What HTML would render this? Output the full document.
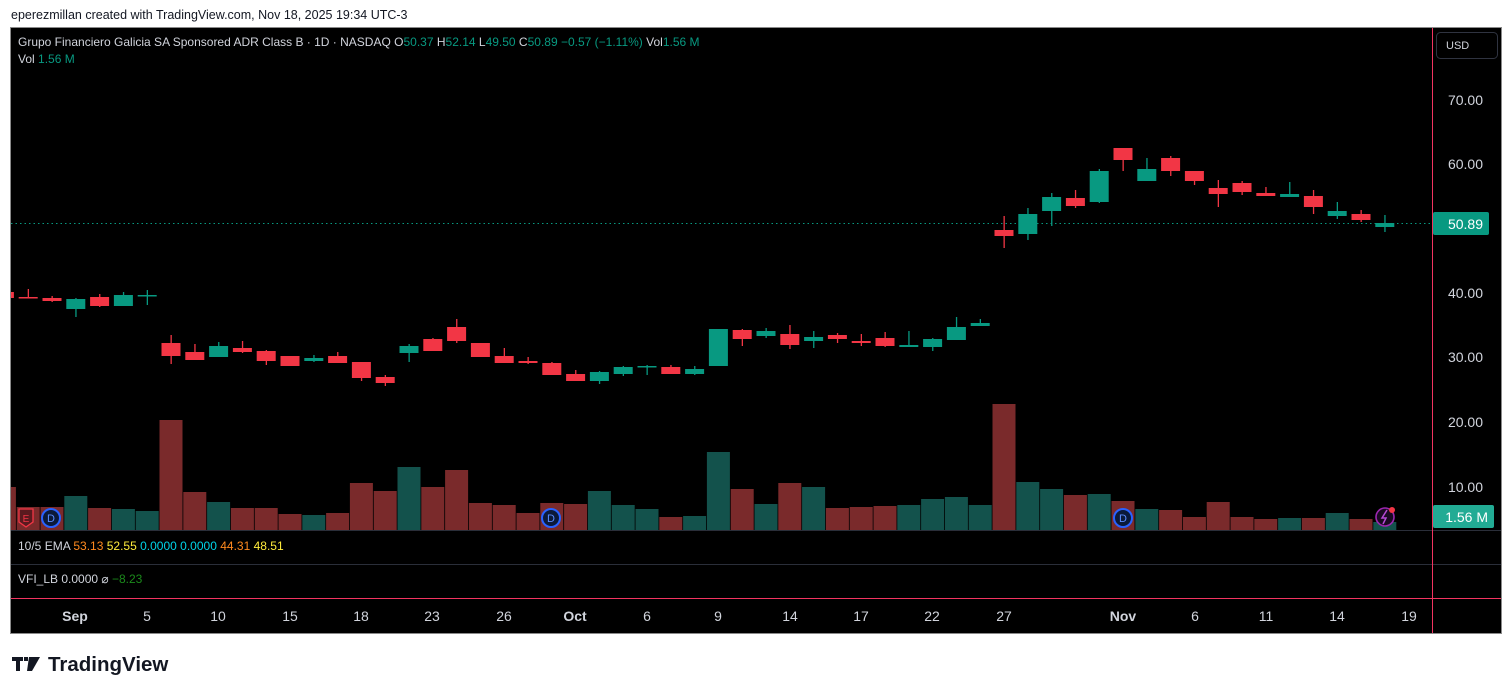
<!DOCTYPE html>
<html><head><meta charset="utf-8">
<style>
html,body{margin:0;padding:0;background:#fff;width:1512px;height:694px;overflow:hidden;font-family:"Liberation Sans","DejaVu Sans",sans-serif}
svg text{font-family:"Liberation Sans","DejaVu Sans",sans-serif}
</style></head><body>
<svg id="s" width="1512" height="694" xmlns="http://www.w3.org/2000/svg">
<rect width="1512" height="694" fill="#fff"/>
<text x="11" y="19" font-size="12.5" fill="#131722">eperezmillan created with TradingView.com, Nov 18, 2025 19:34 UTC-3</text>
<rect x="10.5" y="27.5" width="1491" height="606" fill="#000" stroke="#8a8a8a"/>
<g id="g"></g>
<line x1="11" y1="530.5" x2="1501" y2="530.5" stroke="#2a2e39"/>
<line x1="11" y1="564.5" x2="1501" y2="564.5" stroke="#2a2e39"/>
<line x1="11" y1="598.5" x2="1501" y2="598.5" stroke="#f23460"/>
<line x1="1432.5" y1="28" x2="1432.5" y2="633" stroke="#f23460"/>
<line x1="11" y1="223.5" x2="1432" y2="223.5" stroke="#089981" stroke-dasharray="1.5,3"/>
<text x="18" y="46" font-size="12" fill="#d1d4dc">Grupo Financiero Galicia SA Sponsored ADR Class B · 1D · NASDAQ  O<tspan fill="#089981">50.37</tspan>  H<tspan fill="#089981">52.14</tspan>  L<tspan fill="#089981">49.50</tspan>  C<tspan fill="#089981">50.89  −0.57 (−1.11%)</tspan>  Vol<tspan fill="#089981">1.56 M</tspan></text>
<text x="18" y="63" font-size="12" fill="#d1d4dc">Vol  <tspan fill="#089981">1.56 M</tspan></text>
<rect x="1436.5" y="32.5" width="61" height="26" rx="4" fill="#000" stroke="#2f3340"/>
<text x="1446" y="49" font-size="11" fill="#d1d4dc">USD</text>
<g font-size="14" fill="#d1d4dc" text-anchor="end">
<text x="1483" y="105">70.00</text><text x="1483" y="169">60.00</text><text x="1483" y="298">40.00</text><text x="1483" y="362">30.00</text><text x="1483" y="427">20.00</text><text x="1483" y="492">10.00</text>
</g>
<rect x="1433" y="212" width="56" height="23" rx="2" fill="#089981"/>
<text x="1483" y="229" font-size="14" fill="#fff" text-anchor="end">50.89</text>
<rect x="1433" y="505" width="61" height="23" rx="2" fill="#22ab94"/>
<text x="1488" y="522" font-size="14" fill="#fff" text-anchor="end">1.56 M</text>
<text x="18" y="550" font-size="12" fill="#d1d4dc">10/5 EMA  <tspan fill="#ff8a1f">53.13</tspan>  <tspan fill="#ffeb3b">52.55</tspan>  <tspan fill="#00d4e8">0.0000</tspan>  <tspan fill="#00d4e8">0.0000</tspan>  <tspan fill="#ff8a1f">44.31</tspan>  <tspan fill="#ffeb3b">48.51</tspan></text>
<text x="18" y="583" font-size="12" fill="#d1d4dc">VFI_LB  0.0000  ⌀  <tspan fill="#1b8a1b">−8.23</tspan></text>
<g font-size="14" fill="#d1d4dc" text-anchor="middle">
<text x="75" y="621" font-weight="bold">Sep</text><text x="147" y="621">5</text><text x="218" y="621">10</text><text x="290" y="621">15</text><text x="361" y="621">18</text><text x="432" y="621">23</text><text x="504" y="621">26</text><text x="575" y="621" font-weight="bold">Oct</text><text x="647" y="621">6</text><text x="718" y="621">9</text><text x="790" y="621">14</text><text x="861" y="621">17</text><text x="932" y="621">22</text><text x="1004" y="621">27</text><text x="1123" y="621" font-weight="bold">Nov</text><text x="1195" y="621">6</text><text x="1266" y="621">11</text><text x="1337" y="621">14</text><text x="1409" y="621">19</text>
</g>
<g fill="#131722"><rect x="12" y="657" width="11" height="4"/><rect x="16" y="657" width="4" height="14"/><rect x="24" y="657" width="4" height="4"/><path d="M29 657h11l-8 14h-5z"/></g>
<text x="48" y="671" font-size="20.5" font-weight="bold" fill="#131722">TradingView</text>
</svg>
<script>
var C=[
[0,'r',292,298,292,298],[1,'r',297,297,289,297],[2,'r',298,301,296,302],[3,'g',299,309,298,317],[4,'r',297,306,294,307],[5,'g',295,306,292,306],[6,'g',295,296,290,305],
[7,'r',343,356,335,364],[8,'r',352,360,344,360],[9,'g',346,357,342,357],[10,'r',348,352,341,353],[11,'r',351,361,350,365],[12,'r',356,366,356,366],[13,'g',358,361,355,362],[14,'r',356,363,352,363],[15,'r',362,378,362,381],[16,'r',377,383,375,386],[17,'g',346,353,344,362],[18,'r',339,351,338,351],[19,'r',327,341,319,343],[20,'r',343,357,343,357],[21,'r',356,363,348,363],[22,'r',361,363,357,364],[23,'r',363,375,362,375],[24,'r',374,381,370,381],[25,'g',372,381,371,384],[26,'g',367,374,366,376],[27,'g',366,367,365,375],[28,'r',367,374,365,374],[29,'g',369,374,366,375],[30,'g',329,366,329,366],[31,'r',330,339,329,346],[32,'g',331,336,328,338],[33,'r',334,345,325,349],[34,'g',337,341,331,348],[35,'r',335,339,333,343],[36,'r',341,343,334,346],[37,'r',338,346,332,347],[38,'g',345,347,331,347],[39,'g',339,347,338,351],[40,'g',327,340,317,340],[41,'g',323,326,319,326],
[42,'r',230,236,216,248],[43,'g',214,234,208,240],[44,'g',197,211,193,226],[45,'r',198,206,190,208],[46,'g',171,202,169,203],[47,'r',148,160,148,171],[48,'g',169,181,158,181],[49,'r',158,171,156,176],[50,'r',171,181,171,185],[51,'r',188,194,180,207],[52,'r',183,192,181,195],[53,'r',193,196,187,196],[54,'g',194,197,182,197],[55,'r',196,207,190,214],[56,'g',211,216,202,219],[57,'r',214,220,210,222],[58,'g',223,227,215,232]];
var V=[['r',487],['r',507],['r',507],['g',496],['r',508],['g',509],['g',511],['r',420],['r',492],['g',502],['r',508],['r',508],['r',514],['g',515],['r',513],['r',483],['r',491],['g',467],['r',487],['r',470],['r',503],['r',505],['r',513],['r',503],['r',504],['g',491],['g',505],['g',509],['r',517],['g',516],['g',452],['r',489],['g',504],['r',483],['g',487],['r',508],['r',507],['r',506],['g',505],['g',499],['g',497],['g',505],['r',404],['g',482],['g',489],['r',495],['g',494],['r',501],['g',509],['r',510],['r',517],['r',502],['r',517],['r',519],['g',518],['r',518],['g',513],['r',519],['g',522]];
var h='';
function cx(i){return 171+(i-7)*23.8;}
V.forEach(function(v,i){var x=cx(i)-11.5,w=23;if(x<11){w-=11-x;x=11;}h+='<rect x="'+x.toFixed(1)+'" y="'+v[1]+'" width="'+w.toFixed(1)+'" height="'+(530-v[1])+'" fill="'+(v[0]=='r'?'#7a2a2b':'#13524c')+'"/>';});
C.forEach(function(c){var x=cx(c[0]),col=c[1]=='r'?'#f23645':'#089981';var bx=x-9.5,bw=19;if(bx<11){bw-=11-bx;bx=11;}
if(c[0]>0)h+='<rect x="'+(x-0.5).toFixed(1)+'" y="'+c[4]+'" width="1.3" height="'+Math.max(1,c[5]-c[4])+'" fill="'+col+'"/>';
h+='<rect x="'+bx.toFixed(1)+'" y="'+c[2]+'" width="'+bw.toFixed(1)+'" height="'+Math.max(1.5,c[3]-c[2])+'" fill="'+col+'"/>';});
h+='<path d="M19 509h14v13l-7 5l-7-5z" fill="#5a1a1f" stroke="#f23645" stroke-width="1.3"/><text x="26" y="522" font-size="10" fill="#f23645" text-anchor="middle">E</text>';
[51,551,1123].forEach(function(x){h+='<circle cx="'+x+'" cy="518" r="9" fill="#0b1a3a" stroke="#2962ff" stroke-width="2"/><text x="'+x+'" y="522" font-size="11" fill="#5b8cff" text-anchor="middle">D</text>';});
h+='<circle cx="1385" cy="517" r="9" fill="#1a0a22" stroke="#9c27b0" stroke-width="1.6"/><path d="M1387 510l-5 8h4l-3 6" stroke="#b54ad6" stroke-width="1.5" fill="none"/><circle cx="1392" cy="510" r="3" fill="#f23645"/>';
document.getElementById('g').innerHTML=h;
</script>
</body></html>
